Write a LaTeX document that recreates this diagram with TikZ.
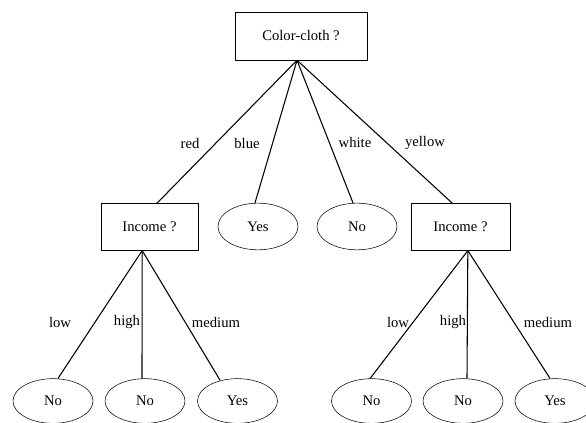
\documentclass[tikz,border=0pt]{standalone}
\usepackage{fontspec}
\setmainfont{Liberation Serif}
\usetikzlibrary{shapes.geometric}

\tikzset{
	test/.style={draw, rectangle, inner sep=0pt},
	leaf/.style={draw, ellipse, inner sep=0pt, minimum width=60pt, minimum height=35pt},
	branch/.style={line width=0.8pt}
}

\begin{document}
\begin{tikzpicture}[x=0.75pt, y=-0.75pt, font=\fontsize{11}{13}\selectfont]
		\useasboundingbox (0,0) rectangle (586,423);
		\node[test, minimum width=99pt, minimum height=36pt] (color) at (301,36) {Color-cloth ?};
		\node[test, minimum width=73pt, minimum height=35pt] (incA) at (149.5,227) {Income ?};
		\node[leaf] (yesA) at (258,226.5) {Yes};
		\node[leaf] (noA) at (357,226.5) {No};
		\node[test, minimum width=74pt, minimum height=35pt] (incB) at (460.5,227) {Income ?};
		\node[leaf, minimum height=33.5pt] (noB) at (53,401) {No};
		\node[leaf, minimum height=33.5pt] (noC) at (145,401) {No};
		\node[leaf, minimum height=33.5pt] (yesB) at (237.5,401) {Yes};
		\node[leaf, minimum height=33.5pt] (noD) at (371.5,401) {No};
		\node[leaf, minimum height=33.5pt] (noE) at (463,401) {No};
		\node[leaf, minimum height=33.5pt] (yesC) at (555,401) {Yes};
		\draw[branch] ([xshift=-3pt]color.south) -- ([xshift=5.5pt]incA.north);
		\draw[branch] ([xshift=-3pt]color.south) -- ([xshift=-2.25pt]yesA.north);
		\draw[branch] ([xshift=-3pt]color.south) -- ([xshift=-3pt]noA.north);
		\draw[branch] ([xshift=-3pt]color.south) -- ([xshift=-6pt]incB.north);
		\draw[branch] ([xshift=-5.5pt]incA.south) -- ([xshift=3.75pt]noB.north);
		\draw[branch] ([xshift=-5.5pt]incA.south) -- ([xshift=-2.25pt]noC.north);
		\draw[branch] ([xshift=-5.5pt]incA.south) -- ([xshift=-13pt, yshift=-1.5pt]yesB.north);
		\draw[branch] ([xshift=5.5pt]incB.south) -- ([xshift=-1pt]noD.north);
		\draw[branch] ([xshift=5.5pt]incB.south) -- ([xshift=3pt]noE.north);
		\draw[branch] ([xshift=5.5pt]incB.south) -- ([xshift=-3.75pt]yesC.north);
		\node (red) at (190,143) {red};
		\node (blue) at (247,143) {blue};
		\node (white) at (355,142) {white};
		\node (yellow) at (425,143) {yellow};
		\node (lowA) at (60,322) {low};
		\node (highA) at (127,322) {high};
		\node (mediumA) at (216,322) {medium};
		\node (lowB) at (398,322) {low};
		\node (highB) at (453,322) {high};
		\node (mediumB) at (548,322) {medium};
	\end{tikzpicture}
\end{document}
